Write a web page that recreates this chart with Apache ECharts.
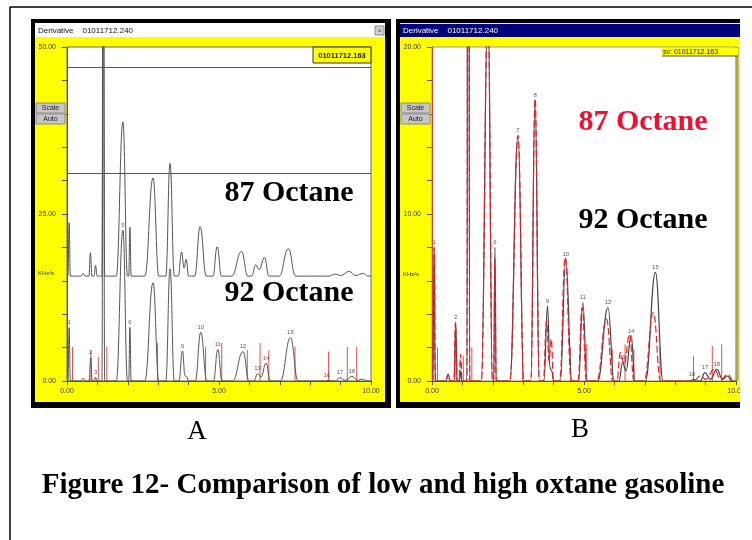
<!DOCTYPE html>
<html>
<head>
<meta charset="utf-8">
<script src="https://cdn.jsdelivr.net/npm/echarts@6.0.0/dist/echarts.min.js"></script>
<style>
  html, body { margin: 0; padding: 0; background: #fff; }
  #main { width: 752px; height: 540px; }
</style>
</head>
<body>
<div id="main"></div>
<script>
// retention time (min) / signal (KHz/s)
var octane92 = [
  [0, 0], [0.03, 0], [0.07, 8.0], [0.11, 0],
  [0.45, 0], [0.53, 0.4], [0.6, 0],
  [0.73, 0], [0.78, 3.5], [0.83, 0],
  [0.9, 0], [0.94, 0.6], [0.98, 0],
  [1.15, 0], [1.19, 80], [1.24, 0],
  [1.62, 0], [1.84, 22.6], [1.99, 0],
  [2.03, 0], [2.07, 8.0], [2.11, 0],
  [2.56, 0], [2.83, 14.7], [3.02, 0],
  [3.25, 0], [3.39, 16.8], [3.53, 0],
  [3.68, 0], [3.8, 4.5], [3.88, 0.8], [3.94, 0.6], [4.0, 0],
  [4.22, 0], [4.4, 7.3], [4.6, 0],
  [4.82, 0], [4.96, 4.7], [5.1, 0],
  [5.45, 0], [5.79, 4.4], [5.99, 0],
  [6.15, 0], [6.27, 1.1], [6.38, 0.6], [6.55, 2.7], [6.68, 0],
  [7.02, 0], [7.35, 6.5], [7.6, 0],
  [8.5, 0], [8.6, 0.1], [8.7, 0],
  [8.82, 0], [8.98, 0.5], [9.16, 0.1], [9.37, 0.7], [9.56, 0.1], [9.72, 0.3], [9.86, 0], [10, 0]
];
var octane87 = [
  [0, 0], [0.03, 0], [0.07, 8.0], [0.11, 0],
  [0.45, 0], [0.53, 0.4], [0.6, 0],
  [0.72, 0], [0.77, 3.5], [0.82, 0],
  [0.89, 0], [0.94, 1.6], [0.99, 0],
  [1.15, 0], [1.19, 80], [1.24, 0],
  [1.62, 0], [1.84, 23.1], [1.99, 0],
  [2.03, 0], [2.07, 7.3], [2.11, 0],
  [2.56, 0], [2.83, 14.7], [3.02, 0],
  [3.25, 0], [3.39, 16.9], [3.53, 0],
  [3.66, 0], [3.77, 3.6], [3.85, 1.2], [3.92, 2.5], [4.0, 0],
  [4.2, 0], [4.38, 7.4], [4.58, 0],
  [4.8, 0], [4.94, 4.4], [5.08, 0],
  [5.42, 0], [5.74, 3.7], [5.95, 0],
  [6.08, 0], [6.2, 1.7], [6.32, 1.0], [6.5, 2.8], [6.64, 0],
  [6.98, 0], [7.28, 4.1], [7.52, 0],
  [8.6, 0], [8.83, 0.3], [9.0, 0.1], [9.28, 0.7], [9.5, 0.1], [9.74, 0.4], [9.9, 0], [10, 0]
];
// panel A shows the 87 octane run shifted up by this much
var offset87A = 15.7;

// red integration marks
var stickTimes    = [0.18, 0.79, 1.03, 1.31, 2.98, 4.56, 5.09, 5.93, 6.35, 6.64, 7.5, 8.6, 9.22, 9.53];
var stickHeightsA = [5.1, 4.6, 3.6, 5.1, 5.7, 5.1, 5.7, 4.6, 5.7, 4.6, 5.1, 4.4, 5.1, 5.1];
var stickHeightsB = [2.0, 1.9, 1.5, 2.0, 2.2, 2.0, 2.2, 1.9, 2.2, 1.9, 2.0, 1.5, 2.1, 2.2];

// peak numbers
var peakLabelsA = [
  [0.07, 8.0, '1'], [0.78, 3.5, '2'], [0.94, 0.6, '3'], [1.84, 22.6, '5'], [2.07, 8.0, '6'],
  [3.8, 4.5, '9'], [4.4, 7.3, '10'], [4.96, 4.7, '11'], [5.79, 4.4, '12'], [6.27, 1.1, '13'],
  [6.55, 2.7, '14'], [7.35, 6.5, '15'], [8.55, 0.1, '16'], [8.98, 0.5, '17'], [9.37, 0.7, '18']
];
var peakLabelsB = [
  [0.07, 8.0, '1'], [0.78, 3.5, '2'], [0.94, 0.6, '3'], [2.07, 8.0, '6'], [2.83, 14.7, '7'],
  [3.39, 16.8, '8'], [3.8, 4.5, '9'], [4.4, 7.3, '10'], [4.96, 4.7, '11'], [5.79, 4.4, '12'],
  [6.27, 1.1, '13'], [6.55, 2.7, '14'], [7.35, 6.5, '15'], [8.55, 0.1, '16'], [8.98, 0.5, '17'], [9.37, 0.7, '18']
];
var cursorLevelsA = [46.9, 31.1];

var xLabelValues = [0, 5, 10];
var yLabelValuesA = [0, 25, 50];
var yLabelValuesB = [0, 10, 20];

var smallFont = 'Liberation Sans';
var serif = 'Liberation Serif';

function xAxisFor(idx) {
  return {
    gridIndex: idx, type: 'value', min: 0, max: 10, interval: 1,
    axisLine: { lineStyle: { color: '#555', width: 1 } },
    axisTick: { length: 4, lineStyle: { color: '#555' } },
    axisLabel: {
      fontSize: 7, color: '#333', margin: 7, fontFamily: smallFont,
      formatter: function (v) { return xLabelValues.indexOf(v) >= 0 ? v.toFixed(2) : ''; }
    },
    splitLine: { show: false }
  };
}
function yAxisFor(idx, max, interval, labels, lineColor) {
  return {
    gridIndex: idx, type: 'value', min: 0, max: max, interval: interval,
    axisLine: { show: true, lineStyle: { color: lineColor, width: 1 } },
    axisTick: { show: true, length: 5, lineStyle: { color: '#555' } },
    axisLabel: {
      fontSize: 7, color: '#333', margin: 11, fontFamily: smallFont,
      formatter: function (v) { return labels.indexOf(v) >= 0 ? v.toFixed(2) : ''; }
    },
    splitLine: { show: false }
  };
}
function trace(data, xi, color, width, dash, z) {
  return {
    type: 'line', xAxisIndex: xi, yAxisIndex: xi, data: data,
    showSymbol: false, smooth: 0.45, smoothMonotone: 'x', silent: true, z: z,
    lineStyle: { color: color, width: width, type: dash }
  };
}
function sticks(heights, xi) {
  return {
    type: 'bar', xAxisIndex: xi, yAxisIndex: xi, barWidth: 1, silent: true, z: 1,
    data: stickTimes.map(function (t, i) { return [t, heights[i]]; }),
    itemStyle: { color: '#e05050' }
  };
}
function numbers(list, xi) {
  return {
    type: 'scatter', xAxisIndex: xi, yAxisIndex: xi, symbolSize: 0, silent: true, z: 5,
    data: list,
    label: {
      show: true, position: 'top', distance: 2, fontSize: 6, color: '#333', fontFamily: smallFont,
      formatter: function (p) { return p.data[2]; }
    }
  };
}

function rect(x, y, w, h, fill, z, stroke) {
  return { type: 'rect', shape: { x: x, y: y, width: w, height: h }, z: z,
           style: { fill: fill, stroke: stroke || null, lineWidth: stroke ? 1 : 0 } };
}
function text(x, y, str, font, color, align, z) {
  return { type: 'text', x: x, y: y, z: z || 50,
           style: { text: str, font: font, fill: color, textAlign: align || 'left', textVerticalAlign: 'middle' } };
}
function button(x, y, label) {
  return [
    rect(x, y, 29, 10, '#c6c6c6', 40, '#8a8a8a'),
    text(x + 14.5, y + 5.5, label, '7px ' + smallFont, '#222', 'center', 41)
  ];
}

var graphics = [
  // outer page frame
  { type: 'line', shape: { x1: 10, y1: 7, x2: 752, y2: 7 }, z: -20, style: { stroke: '#000', lineWidth: 1.5 } },
  { type: 'line', shape: { x1: 10, y1: 7, x2: 10, y2: 540 }, z: -20, style: { stroke: '#000', lineWidth: 1.5 } },
  // panel A window
  rect(31, 19, 360, 389, '#000', -10),
  rect(35, 23, 350, 379, '#ffff00', -9),
  rect(35, 23, 350, 14, '#ffffff', -8),
  text(38, 30.5, 'Derivative    01011712.240', '8px ' + smallFont, '#111', 'left', 40),
  rect(375, 26, 9, 9, '#d0d0d0', 40, '#888'),
  text(379.5, 30.5, '×', '8px ' + smallFont, '#555', 'center', 41),
  // panel B window
  rect(396, 19, 344, 389, '#000', -10),
  rect(400, 23, 340, 379, '#ffff00', -9),
  rect(400, 24, 340, 13, '#00007a', -8),
  text(403, 30.5, 'Derivative    01011712.240', '8px ' + smallFont, '#fff', 'left', 40),
  // right border of B plot
  rect(735.5, 47, 3, 334, '#a8a070', 30),
  // legend boxes
  rect(313, 47, 58, 16, '#ffff00', 40, '#333'),
  text(342, 55.5, '01011712.163', 'bold 7.5px ' + smallFont, '#111', 'center', 41),
  rect(662, 48, 76, 8, '#ffff00', 40),
  { type: 'line', shape: { x1: 662, y1: 56, x2: 738, y2: 56 }, z: 40, style: { stroke: '#555', lineWidth: 1 } },
  text(663, 52, 'sv: 01011712.163', '7px ' + smallFont, '#111', 'left', 41),
  // unit labels
  text(38, 273, 'KHz/s', '6px ' + smallFont, '#333', 'left', 40),
  text(403, 274, 'KHz/s', '6px ' + smallFont, '#333', 'left', 40),
  // overlay captions
  text(289, 193, '87 Octane', 'bold 30px ' + serif, '#000', 'center', 60),
  text(289, 293, '92 Octane', 'bold 30px ' + serif, '#000', 'center', 60),
  text(643, 122, '87 Octane', 'bold 30px ' + serif, '#ee1133', 'center', 60),
  text(643, 220, '92 Octane', 'bold 30px ' + serif, '#000', 'center', 60),
  text(197, 432, 'A', '27px ' + serif, '#000', 'center', 60),
  text(580, 430, 'B', '27px ' + serif, '#000', 'center', 60),
  text(383, 486, 'Figure 12- Comparison of low and high oxtane gasoline', 'bold 29px ' + serif, '#000', 'center', 60),
  // the screenshot is cut off on the right
  rect(740, 12, 12, 528, '#ffffff', 70)
].concat(button(36, 103, 'Scale'), button(36, 114, 'Auto'),
         button(401, 103, 'Scale'), button(401, 114, 'Auto'));

var chart = echarts.init(document.getElementById('main'), null, { renderer: 'canvas' });

var option = {
  animation: false,
  backgroundColor: '#ffffff',
  grid: [
    { left: 67, top: 47, width: 304, height: 334, show: true, backgroundColor: '#ffffff', borderColor: '#666', borderWidth: 1, containLabel: false },
    { left: 432, top: 47, width: 304, height: 334, show: true, backgroundColor: '#ffffff', borderColor: '#999', borderWidth: 1, containLabel: false }
  ],
  xAxis: [xAxisFor(0), xAxisFor(1)],
  yAxis: [yAxisFor(0, 50, 5, yLabelValuesA, '#555'), yAxisFor(1, 20, 2, yLabelValuesB, '#d04040')],
  series: [
    sticks(stickHeightsA, 0),
    trace(octane92, 0, '#555', 1, 'solid', 3),
    trace(octane87.map(function (p) { return [p[0], p[1] + offset87A]; }), 0, '#555', 1, 'solid', 3),
    {
      type: 'line', xAxisIndex: 0, yAxisIndex: 0, data: [], silent: true,
      markLine: {
        symbol: 'none', silent: true, label: { show: false },
        lineStyle: { color: '#555', width: 1, type: 'solid' },
        data: cursorLevelsA.map(function (v) { return { yAxis: v }; })
      }
    },
    numbers(peakLabelsA, 0),
    sticks(stickHeightsB, 1),
    trace(octane92, 1, '#444', 1.2, 'solid', 3),
    trace(octane87, 1, '#e8202a', 1.2, [7, 3], 4),
    numbers(peakLabelsB, 1)
  ],
  graphic: { elements: graphics }
};

chart.setOption(option);
</script>
</body>
</html>
